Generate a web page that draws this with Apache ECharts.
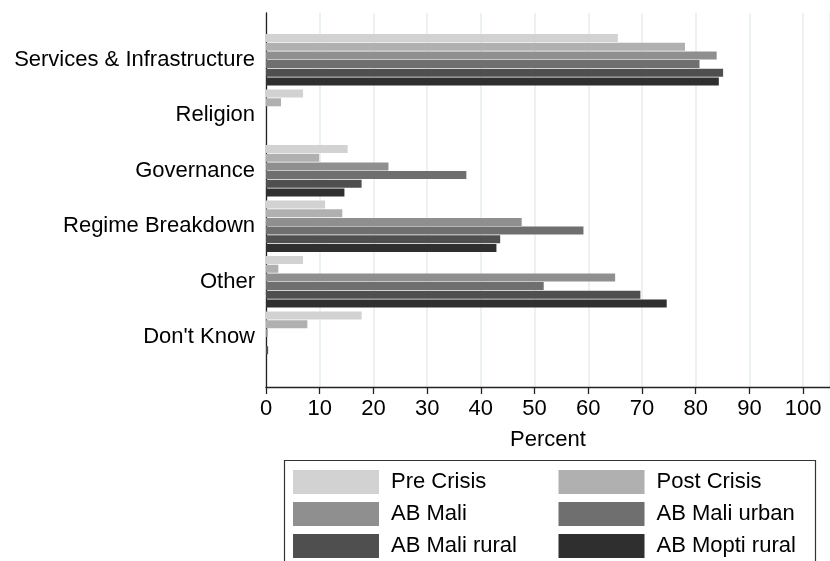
<!DOCTYPE html>
<html>
<head>
<meta charset="utf-8">
<script src="https://cdn.jsdelivr.net/npm/echarts@6/dist/echarts.min.js"></script>
<style>html,body{margin:0;padding:0;background:#fff}#c{width:830px;height:561px}</style>
</head>
<body>
<div id="c"></div>
<script>
const categories = ["Services & Infrastructure", "Religion", "Governance", "Regime Breakdown", "Other", "Don't Know"];
const seriesNames = ["Pre Crisis", "Post Crisis", "AB Mali", "AB Mali urban", "AB Mali rural", "AB Mopti rural"];
const preCrisis    = [65.5, 6.9, 15.2, 11.0, 6.9, 17.8];
const postCrisis   = [78.0, 2.8, 9.9, 14.2, 2.3, 7.7];
const abMali       = [83.9, 0, 22.8, 47.6, 65.0, 0.3];
const abMaliUrban  = [80.7, 0, 37.3, 59.1, 51.7, 0];
const abMaliRural  = [85.1, 0, 17.8, 43.6, 69.7, 0.4];
const abMoptiRural = [84.3, 0, 14.6, 42.9, 74.6, 0];
const xTicks = [0, 10, 20, 30, 40, 50, 60, 70, 80, 90, 100];

const colors = ["#d2d2d2", "#b0b0b0", "#8f8f8f", "#6f6f6f", "#4f4f4f", "#2f2f2f"];
const allData = [preCrisis, postCrisis, abMali, abMaliUrban, abMaliRural, abMoptiRural];
const FONT = "Liberation Sans, Arial, Helvetica, sans-serif";

// legend placement: two columns, three rows
const legendCols = [288, 553.5];
const legendRows = [465, 497, 529];

const chart = echarts.init(document.getElementById('c'), null, {renderer: 'canvas'});
const option = {
  animation: false,
  textStyle: {fontFamily: FONT},
  grid: [
    {left: 266, width: 571, top: 32, height: 333},
    {left: 266, width: 571, top: 13, height: 374}
  ],
  xAxis: [
    {gridIndex: 0, type: 'value', min: 0, max: 105, interval: 10, show: false},
    {gridIndex: 1, type: 'value', min: 0, max: 105, interval: 10,
     axisLine: {show: true, lineStyle: {color: '#222', width: 1.3}},
     axisTick: {show: true, length: 7, lineStyle: {color: '#222', width: 1.3}},
     axisLabel: {show: true, fontSize: 22, color: '#000', margin: 11, showMaxLabel: false,
       formatter: v => xTicks.indexOf(v) >= 0 ? String(v) : ''},
     splitLine: {show: true, lineStyle: {color: '#e6eef0', width: 1.5}},
     name: 'Percent', nameLocation: 'middle', nameGap: 42,
     nameTextStyle: {fontSize: 22, color: '#000', fontFamily: FONT}}
  ],
  yAxis: [
    {gridIndex: 0, type: 'category', data: categories, inverse: true,
     axisLine: {show: false}, axisTick: {show: false},
     axisLabel: {fontSize: 22, color: '#000', margin: 11, padding: [5, 0, 0, 0]}},
    {gridIndex: 1, type: 'value', min: 0, max: 1,
     axisLine: {show: true, lineStyle: {color: '#222', width: 1.3}},
     axisTick: {show: false}, axisLabel: {show: false}, splitLine: {show: false}}
  ],
  legend: seriesNames.map((name, i) => ({
    left: legendCols[i % 2], top: legendRows[Math.floor(i / 2)],
    itemWidth: 86, itemHeight: 24, icon: 'rect', data: [name],
    textStyle: {fontSize: 22, color: '#000', padding: [0, 0, 0, 7]}
  })),
  graphic: [
    {type: 'rect', shape: {x: 284.5, y: 460.5, width: 531, height: 120},
     style: {fill: 'none', stroke: '#333', lineWidth: 1.2}, z: 0}
  ],
  series: allData.map((d, i) => ({
    name: seriesNames[i], type: 'bar', xAxisIndex: 0, yAxisIndex: 0,
    data: d, barGap: '8%', barCategoryGap: '7.6%',
    itemStyle: {color: colors[i]}
  }))
};
chart.setOption(option);
</script>
</body>
</html>
